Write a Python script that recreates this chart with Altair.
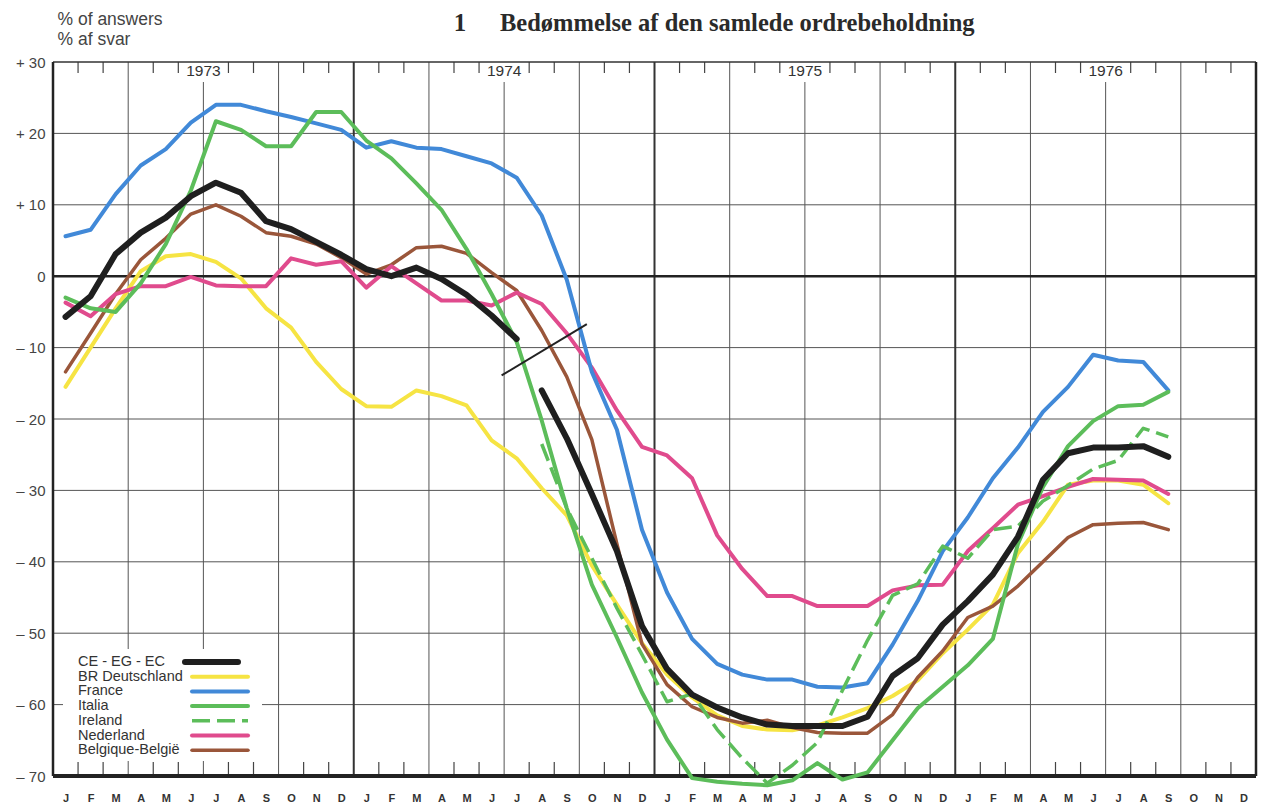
import json
import altair as alt
import pandas as pd

# ---------------- data ----------------
month_letters = ["J", "F", "M", "A", "M", "J", "J", "A", "S", "O", "N", "D"]
year_labels = ["1973", "1974", "1975", "1976"]

series_names = ["CE - EG - EC", "BR Deutschland", "France", "Italia",
                "Ireland", "Nederland", "Belgique-België"]
series_colors = ["#1f1f1f", "#f6e443", "#4189d8", "#5cbd5a",
                 "#5cbd5a", "#e04b8d", "#9a563a"]

# Jan 1973 - Jul 1974
ec_part1 = [-5.7, -2.8, 3.1, 6.1, 8.2, 11.2, 13.1, 11.7, 7.7, 6.6, 4.8, 3.0,
            1.0, 0.0, 1.2, -0.4, -2.6, -5.5, -8.8]
# Aug 1974 - Sep 1976
ec_part2 = [-16.0, -22.7, -30.5, -38.5, -49.0,
            -55.0, -58.6, -60.4, -61.8, -62.8, -63.0, -63.0, -63.0, -61.7, -56.0, -53.5, -48.8,
            -45.5, -41.8, -36.5, -28.5, -24.8, -24.0, -24.0, -23.8, -25.3]

# Jan 1973 - Sep 1976
deutschland = [-15.5, -10.0, -4.5, 0.7, 2.8, 3.1, 2.0, -0.3, -4.5, -7.2, -12.0, -15.8,
               -18.2, -18.3, -16.0, -16.8, -18.1, -23.0, -25.5, -29.7, -33.5, -40.5, -46.0, -51.4,
               -55.8, -59.0, -61.5, -63.0, -63.5, -63.6, -62.9, -61.8, -60.5, -58.8, -56.6, -52.8,
               -49.5, -46.0, -38.8, -34.4, -29.2, -28.6, -28.6, -29.2, -31.8]
france = [5.6, 6.5, 11.5, 15.5, 17.8, 21.5, 24.0, 24.0, 23.1, 22.3, 21.4, 20.5,
          18.0, 18.9, 18.0, 17.8, 16.8, 15.8, 13.8, 8.5, -0.5, -13.4, -21.5, -35.5,
          -44.3, -50.8, -54.3, -55.8, -56.5, -56.5, -57.5, -57.6, -57.0, -51.6, -45.5, -38.5,
          -33.8, -28.3, -24.0, -19.0, -15.5, -11.0, -11.8, -12.0, -16.0]
italia = [-3.0, -4.5, -5.0, -1.0, 4.5, 12.0, 21.7, 20.5, 18.2, 18.2, 23.0, 23.0,
          19.0, 16.5, 13.0, 9.3, 3.8, -2.5, -9.2, -20.2, -32.5, -43.2, -50.6, -58.3,
          -64.9, -70.3, -70.8, -71.1, -71.3, -70.6, -68.2, -70.5, -69.5, -65.0, -60.5, -57.5,
          -54.5, -50.8, -37.5, -29.5, -23.8, -20.3, -18.2, -18.0, -16.2]
# Aug 1974 - Sep 1976
ireland = [-23.5, -32.5, -39.5, -46.5, -53.0,
           -59.6, -58.5, -63.5, -67.5, -71.0, -68.5, -65.3, -58.0, -51.0, -44.7, -43.1, -37.8,
           -39.5, -35.5, -35.0, -31.5, -29.3, -27.0, -25.8, -21.3, -22.5]
# Jan 1973 - Sep 1976
nederland = [-3.7, -5.6, -2.5, -1.4, -1.4, -0.1, -1.3, -1.4, -1.4, 2.5, 1.6, 2.1,
             -1.6, 1.4, -1.0, -3.4, -3.4, -4.1, -2.3, -3.9, -8.0, -12.8, -18.8, -23.9,
             -25.1, -28.3, -36.3, -41.0, -44.8, -44.8, -46.2, -46.2, -46.2, -44.0, -43.3, -43.2,
             -38.5, -35.3, -32.0, -30.8, -29.5, -28.4, -28.5, -28.6, -30.5]
belgique = [-13.4, -8.0, -2.5, 2.3, 5.3, 8.7, 10.0, 8.4, 6.1, 5.6, 4.5, 2.6,
            0.3, 1.6, 4.0, 4.2, 3.2, 0.5, -2.0, -7.6, -14.1, -22.9, -37.5, -51.5,
            -57.2, -60.3, -61.8, -62.6, -62.2, -63.2, -63.9, -64.0, -64.0, -61.4, -56.2, -52.5,
            -47.8, -46.2, -43.4, -40.0, -36.6, -34.8, -34.6, -34.5, -35.5]

# break marker drawn across the EC line (months since Jan 1973, %)
break_month = [17.9, 21.3]
break_value = [-13.9, -6.7]

y_ticks = [-70, -60, -50, -40, -30, -20, -10, 0, 10, 20, 30]

# ---------------- layout helpers ----------------
W, H = 1203, 714
X_MAX = 48
Y_MIN, Y_MAX = -70, 30
PX_X = W / X_MAX
PX_Y = H / (Y_MAX - Y_MIN)


def xv(page_x):
    return (page_x - 53) / PX_X


def yv(page_y):
    return Y_MAX - (page_y - 62) / PX_Y


FONT = "Liberation Sans"
xs = alt.Scale(domain=[0, X_MAX], nice=False, zero=False)
ys = alt.Scale(domain=[Y_MIN, Y_MAX], nice=False, zero=False)

label_expr = "%s[floor(datum.value) %% 12]" % json.dumps(month_letters)
AX_X = alt.Axis(
    values=[i + 0.5 for i in range(48)], labelExpr=label_expr, domain=False,
    ticks=False, tickSize=0, grid=False, labelPadding=16, labelFontSize=11,
    labelFontWeight="bold", labelColor="#333", labelFont=FONT,
    labelOverlap=False, labelFlush=False, labelBound=False, title=None)
AX_Y = alt.Axis(
    values=y_ticks,
    labelExpr="datum.value > 0 ? '+ ' + datum.value : (datum.value < 0 ? '– ' + abs(datum.value) : '0')",
    domain=False, ticks=False, tickSize=0, grid=False, labelPadding=8,
    labelFontSize=15, labelColor="#444", labelFont=FONT,
    title=["% of answers", "% af svar"], titleAngle=0, titleAlign="left",
    titleBaseline="alphabetic", titleX=4, titleY=-38, titleFontSize=17.5,
    titleFontWeight="normal", titleColor="#444", titleFont=FONT,
    titleLineHeight=20)


def frame(values, start, seg=0):
    return pd.DataFrame({"m": [start + i + 0.5 for i in range(len(values))],
                         "v": values, "seg": seg})


def X(field="m"):
    return alt.X(f"{field}:Q", scale=xs, axis=AX_X)


def Y(field="v"):
    return alt.Y(f"{field}:Q", scale=ys, axis=AX_Y)


layers = []

# ---- horizontal grid ----
hgrid = pd.DataFrame({"v": [t for t in y_ticks if t not in (0, Y_MIN, Y_MAX)]})
layers.append(alt.Chart(hgrid).mark_rule(color="#555", strokeWidth=1).encode(y=Y()))

# ---- vertical grid: quarter lines, mid-year lines, year lines ----
quarters = pd.DataFrame({"m": [m for m in range(3, 48, 3) if m % 12 not in (0, 6)], "top": Y_MAX, "bot": Y_MIN})
midyear = pd.DataFrame({"m": [m for m in range(6, 48, 12)], "top": yv(82), "bot": Y_MIN})
yearl = pd.DataFrame({"m": [12, 24, 36], "top": Y_MAX, "bot": Y_MIN})
for d, w, c in [(quarters, 1, "#555"), (midyear, 1, "#555"), (yearl, 2, "#333")]:
    layers.append(alt.Chart(d).mark_rule(color=c, strokeWidth=w).encode(
        x=X(), y=Y("top"), y2="bot:Q"))

# ---- month ticks on top and bottom ----
tick_m = [m for m in range(1, 48) if m % 3 != 0]
top_ticks = pd.DataFrame({"m": tick_m, "a": Y_MAX, "b": yv(73)})
bot_ticks = pd.DataFrame({"m": tick_m, "a": Y_MIN, "b": yv(762)})
for d in (top_ticks, bot_ticks):
    layers.append(alt.Chart(d).mark_rule(color="#444", strokeWidth=1.2).encode(
        x=X(), y=Y("a"), y2="b:Q"))

# ---- year labels ----
years_df = pd.DataFrame({"m": [6 + 12 * i for i in range(len(year_labels))], "label": year_labels})
layers.append(alt.Chart(years_df).mark_text(fontSize=15.5, color="#333", font=FONT,
                                            baseline="middle").encode(
    x=X(), y=alt.value(9), text="label:N"))

# ---- frame lines ----
layers.append(alt.Chart(pd.DataFrame({"v": [0]})).mark_rule(color="#222", strokeWidth=2.5).encode(y=Y()))
layers.append(alt.Chart(pd.DataFrame({"v": [Y_MAX]})).mark_rule(color="#333", strokeWidth=1.5).encode(y=Y()))
layers.append(alt.Chart(pd.DataFrame({"v": [Y_MIN]})).mark_rule(color="#222", strokeWidth=4).encode(y=Y()))
layers.append(alt.Chart(pd.DataFrame({"m": [0]})).mark_rule(color="#222", strokeWidth=2.5).encode(x=X()))
layers.append(alt.Chart(pd.DataFrame({"m": [X_MAX]})).mark_rule(color="#222", strokeWidth=2.5).encode(x=X()))

# ---- white legend box ----
box = pd.DataFrame({"x1": [xv(63)], "x2": [xv(262)], "y1": [yv(649)], "y2": [yv(761)]})
layers.append(alt.Chart(box).mark_rect(color="white").encode(
    x=X("x1"), x2="x2:Q", y=Y("y1"), y2="y2:Q"))

# ---- data series ----
series_data = {
    "CE - EG - EC": pd.concat([frame(ec_part1, 0, 0), frame(ec_part2, 19, 1)]),
    "BR Deutschland": frame(deutschland, 0),
    "France": frame(france, 0),
    "Italia": frame(italia, 0),
    "Ireland": frame(ireland, 19),
    "Nederland": frame(nederland, 0),
    "Belgique-België": frame(belgique, 0),
}
style = {
    "CE - EG - EC": dict(strokeWidth=6),
    "BR Deutschland": dict(strokeWidth=4),
    "France": dict(strokeWidth=4),
    "Italia": dict(strokeWidth=4),
    "Ireland": dict(strokeWidth=3.5, strokeDash=[18, 7]),
    "Nederland": dict(strokeWidth=4),
    "Belgique-België": dict(strokeWidth=3.5),
}
color_of = dict(zip(series_names, series_colors))
draw_order = ["BR Deutschland", "Belgique-België", "Nederland", "France",
              "Ireland", "Italia", "CE - EG - EC"]
for name in draw_order:
    st = dict(style[name])
    cap = "butt" if "strokeDash" in st else "round"
    layers.append(alt.Chart(series_data[name]).mark_line(
        color=color_of[name], strokeJoin="round", strokeCap=cap, **st).encode(
        x=X(), y=Y(), detail="seg:N"))

# ---- break marker ----
brk = pd.DataFrame({"m": break_month, "v": break_value})
layers.append(alt.Chart(brk).mark_line(color="#222", strokeWidth=2).encode(x=X(), y=Y()))

# ---- legend ----
leg_rows = pd.DataFrame({"label": series_names,
                         "lx": xv(78),
                         "ly": [yv(662 + 14.7 * i) for i in range(len(series_names))]})
layers.append(alt.Chart(leg_rows).mark_text(align="left", baseline="middle", fontSize=14.5,
                                            color="#333", font=FONT).encode(
    x=X("lx"), y=Y("ly"), text="label:N"))
for i, name in enumerate(series_names):
    st = dict(style[name])
    x_start = 185 if i == 0 else 192
    x_end = 238 if i == 0 else 248
    d = pd.DataFrame({"a": [xv(x_start)], "b": [xv(x_end)], "v": [yv(662 + 14.7 * i)]})
    cap = "butt" if "strokeDash" in st else "round"
    layers.append(alt.Chart(d).mark_rule(color=color_of[name], strokeCap=cap, **st).encode(
        x=X("a"), x2="b:Q", y=Y()))

# ---- titles ----
layers.append(alt.Chart(pd.DataFrame({"t": ["1"]})).mark_text(
    font="Liberation Serif", fontWeight="bold", fontSize=25, color="#2a2a2a",
    align="center", baseline="alphabetic").encode(
    x=alt.value(407), y=alt.value(-31), text="t:N"))
layers.append(alt.Chart(pd.DataFrame({"t": ["Bedømmelse af den samlede ordrebeholdning"]})).mark_text(
    font="Liberation Serif", fontWeight="bold", fontSize=24.5, color="#2a2a2a",
    align="left", baseline="alphabetic").encode(
    x=alt.value(447), y=alt.value(-31), text="t:N"))

chart = alt.layer(*layers).properties(
    width=W, height=H,
    autosize=alt.AutoSizeParams(type="none"),
    padding={"left": 45, "top": 54, "right": 2, "bottom": 32},
    background="white",
).configure_view(stroke=None)

chart.save("out.html", embed_options={"renderer": "svg", "actions": False})
